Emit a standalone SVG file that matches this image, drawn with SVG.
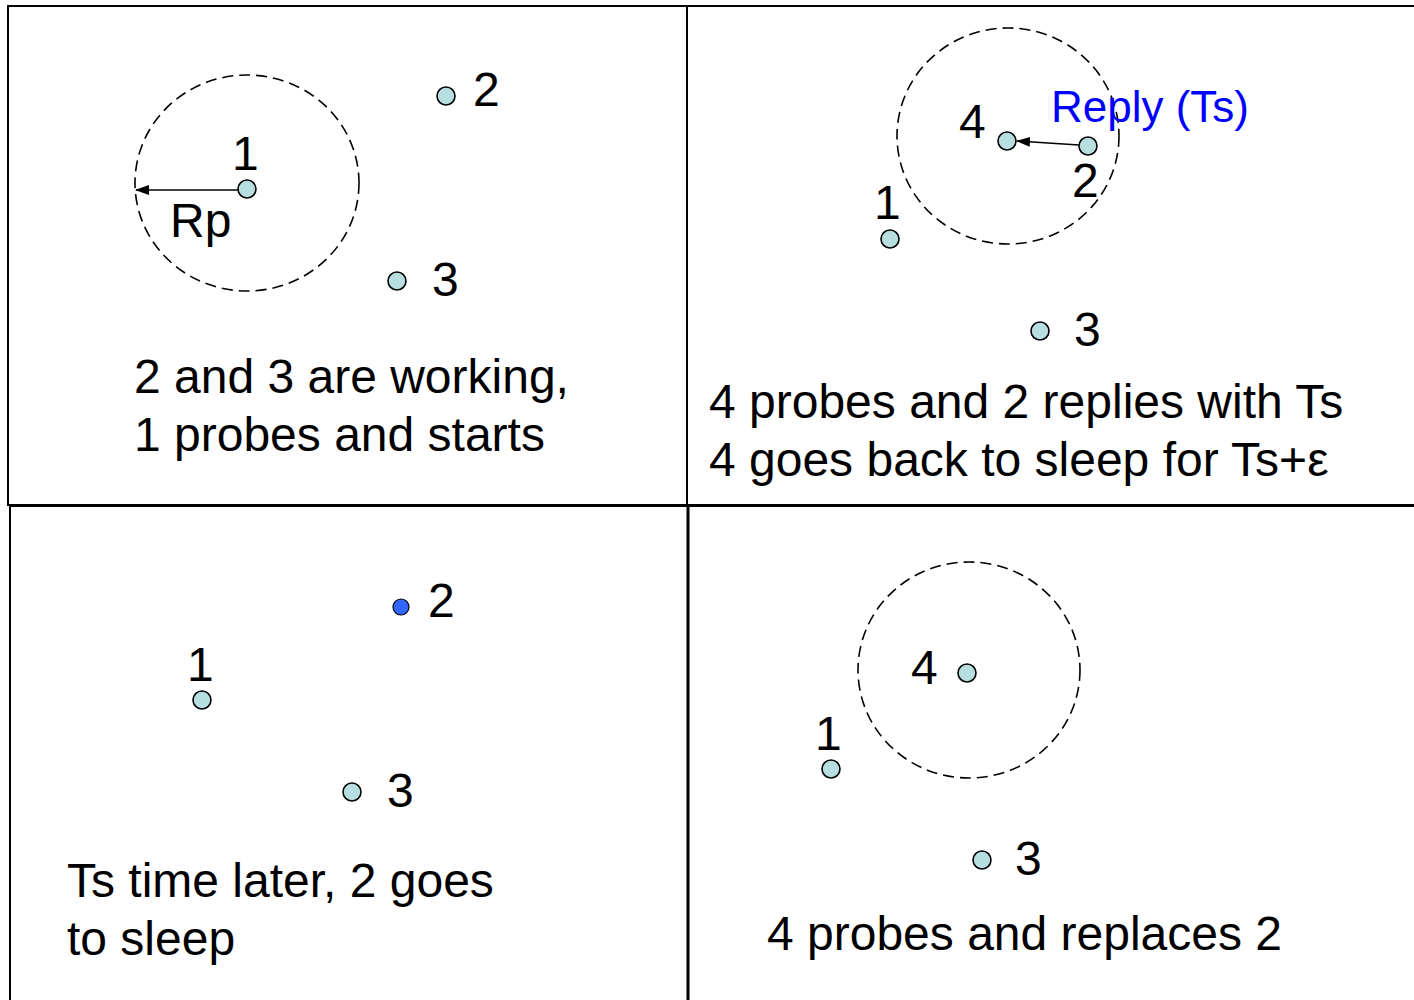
<svg xmlns="http://www.w3.org/2000/svg" width="1414" height="1000" viewBox="0 0 1414 1000">
<style>
.t{font-family:"Liberation Sans",Arial,sans-serif;font-size:48px;fill:#000}
.blue{fill:#0000ff;font-size:44px}
.n{fill:#b8dfdf;stroke:#000;stroke-width:1.6}
.nb{fill:#3366ff;stroke:#000;stroke-width:1.2}
.d{fill:none;stroke:#000;stroke-width:1.6;stroke-dasharray:11 6}
.b{fill:none;stroke:#000;stroke-width:2}
.a{stroke:#000;stroke-width:1.6;fill:none;marker-end:url(#ah)}
</style>
<defs>
<marker id="ah" markerWidth="14" markerHeight="10" refX="13" refY="5" orient="auto" markerUnits="userSpaceOnUse">
<path d="M0,0 L14,5 L0,10 Z" fill="#000"/>
</marker>
</defs>
<rect width="1414" height="1000" fill="#fff"/>
<g id="frames">
<rect class="b" x="8" y="6" width="679" height="499"/>
<path class="b" d="M687,6 H1414 M687,6 V505 M687,505 H1414"/>
<path class="b" d="M10,506 V1000 M10,506 H688"/>
<path class="b" d="M688,506 V1000" style="stroke-width:3"/>
<path class="b" d="M688,506 H1414"/>
</g>
<g id="connectors">
<line class="a" x1="238" y1="190" x2="136" y2="190"/>
<line class="a" x1="1079" y1="145" x2="1017" y2="141"/>
</g>
<g id="panel1">
<ellipse class="d" cx="247" cy="183" rx="112" ry="108"/>
<g id="p1n1"><circle class="n" cx="247" cy="189" r="9"/><text class="t" x="232" y="170">1</text></g>
<text class="t" x="170" y="237">Rp</text>
<g id="p1n2"><circle class="n" cx="446" cy="96" r="9"/><text class="t" x="473" y="106">2</text></g>
<g id="p1n3"><circle class="n" cx="397" cy="281" r="9"/><text class="t" x="432" y="296">3</text></g>
<text class="t" x="134" y="393">2 and 3 are working,</text>
<text class="t" x="134" y="451">1 probes and starts</text>
</g>
<g id="panel2">
<ellipse class="d" cx="1008" cy="136" rx="111" ry="108"/>
<g id="p2n4"><circle class="n" cx="1007" cy="141" r="9"/><text class="t" x="959" y="138">4</text></g>
<g id="p2n2"><circle class="n" cx="1088" cy="146" r="9"/><text class="t" x="1072" y="197">2</text></g>
<text class="t blue" x="1051" y="122">Reply (Ts)</text>
<g id="p2n1"><circle class="n" cx="890" cy="239" r="9"/><text class="t" x="874" y="219">1</text></g>
<g id="p2n3"><circle class="n" cx="1040" cy="331" r="9"/><text class="t" x="1074" y="346">3</text></g>
<text class="t" x="709" y="418">4 probes and 2 replies with Ts</text>
<text class="t" x="709" y="476">4 goes back to sleep for Ts+ε</text>
</g>
<g id="panel3">
<g id="p3n2"><circle class="nb" cx="401" cy="607" r="8"/><text class="t" x="428" y="617">2</text></g>
<g id="p3n1"><circle class="n" cx="202" cy="700" r="9"/><text class="t" x="187" y="681">1</text></g>
<g id="p3n3"><circle class="n" cx="352" cy="792" r="9"/><text class="t" x="387" y="807">3</text></g>
<text class="t" x="67" y="897">Ts time later, 2 goes</text>
<text class="t" x="67" y="955">to sleep</text>
</g>
<g id="panel4">
<ellipse class="d" cx="969" cy="670" rx="111" ry="108"/>
<g id="p4n4"><circle class="n" cx="967" cy="673" r="9"/><text class="t" x="911" y="684">4</text></g>
<g id="p4n1"><circle class="n" cx="831" cy="769" r="9"/><text class="t" x="815" y="750">1</text></g>
<g id="p4n3"><circle class="n" cx="982" cy="860" r="9"/><text class="t" x="1015" y="875">3</text></g>
<text class="t" x="767" y="950">4 probes and replaces 2</text>
</g>
</svg>
